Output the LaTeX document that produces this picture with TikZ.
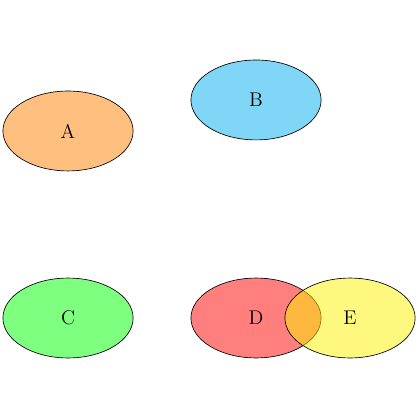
\documentclass[tikz,border=0pt]{standalone}
\usetikzlibrary{shapes.geometric}
\definecolor{pcyan}{rgb}{0,0.68,0.94}
\tikzset{
  blob/.style={ellipse, draw=black, line width=0.4pt, fill opacity=0.5, text opacity=1,
    minimum width=2.77cm, minimum height=1.7cm, inner sep=0pt, font=\fontsize{12}{14}\selectfont}
}
\begin{document}
\begin{tikzpicture}
\useasboundingbox (0,0) rectangle (8.936,8.936);
\node[blob, fill=orange] (A) at (1.447,6.149) {A};
\node[blob, fill=pcyan] (B) at (5.447,6.809) {B};
\node[blob, fill=green] (C) at (1.447,2.170) {C};
\node[blob, fill=red] (D) at (5.447,2.170) {D};
\node[blob, fill=yellow] (E) at (7.447,2.170) {E};
\end{tikzpicture}
\end{document}
